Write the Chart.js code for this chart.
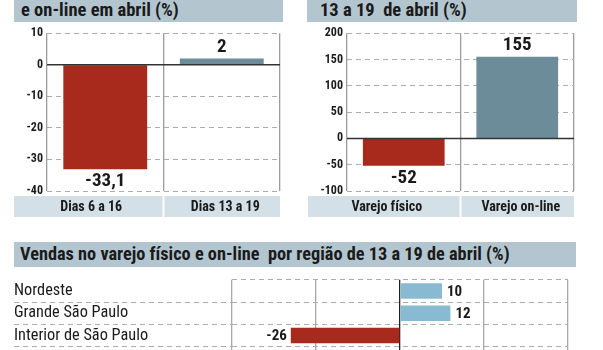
<!DOCTYPE html>
<html>
<head>
<meta charset="utf-8">
<script src="https://cdn.jsdelivr.net/npm/chart.js@4.4.0/dist/chart.umd.min.js"></script>
<style>
  body { margin: 0; width: 603px; height: 350px; overflow: hidden; background: #fff; position: relative;
         font-family: "Roboto Condensed", "DejaVu Sans Condensed", sans-serif; }
  .faixa { position: absolute; background: #b3c6d0; color: #1a1a1a; font-weight: bold; white-space: nowrap; }
  .faixa span { position: absolute; left: 7px; bottom: 1px; }
  canvas { position: absolute; }
</style>
</head>
<body>
<div class="faixa" style="left:14px;top:0;width:269px;height:22px;"><span style="font-size:18.5px">e on-line em abril (%)</span></div>
<div class="faixa" style="left:307px;top:0;width:270px;height:22px;"><span style="font-size:18.5px;left:13px">13 a 19&nbsp; de abril (%)</span></div>
<div class="faixa" style="left:14px;top:242px;width:562px;height:25px;"><span style="font-size:18.3px;left:6px;bottom:3px">Vendas no varejo físico e on-line&nbsp; por região de 13 a 19 de abril (%)</span></div>

<canvas id="c1" width="300" height="200" style="left:0;top:22px"></canvas>
<canvas id="c2" width="303" height="200" style="left:300px;top:22px"></canvas>
<canvas id="c3" width="603" height="110" style="left:0;top:270px"></canvas>

<script>
// dados
const periodos = ['Dias 6 a 16', 'Dias 13 a 19'];
const variacaoPeriodo = [-33.1, 2];
const ticksPeriodo = [-40, -30, -20, -10, 0, 10];

const canais = ['Varejo físico', 'Varejo on-line'];
const variacaoCanal = [-52, 155];
const ticksCanal = [-100, -50, 0, 50, 100, 150, 200];

const regioes = ['Nordeste', 'Grande São Paulo', 'Interior de São Paulo', ''];
const variacaoRegiao = [10, 12, -26, -11];
const ticksRegiao = [-40, -20, 0, 20, 40];

const vermelho = '#a72a1c';
const azulEscuro = '#6b8c98';
const azulClaro = '#88bad2';
const fonte = '"Roboto Condensed", "DejaVu Sans Condensed", sans-serif';

const virgula = v => String(v).replace('.', ',');

// faixas cinza-azuladas com os nomes das categorias
const faixasPlugin = {
    id: 'faixas',
    beforeDraw(chart, args, opts) {
        const c = chart.ctx;
        const x = chart.scales.x;
        const area = chart.chartArea;
        const n = chart.data.labels.length;
        let ini = opts.left;
        c.save();
        for (let i = 0; i < n; i++) {
            let fim = i < n - 1 ? (x.getPixelForTick(i) + x.getPixelForTick(i + 1)) / 2 - 1 : area.right;
            c.fillStyle = '#d4e0e7';
            c.fillRect(ini, opts.top, fim - ini, opts.height);
            c.fillStyle = '#1a1a1a';
            c.font = 'bold 14px ' + fonte;
            c.textAlign = 'center';
            c.textBaseline = 'middle';
            c.fillText(chart.data.labels[i], (ini + fim) / 2 + 3, opts.top + opts.height / 2 + 1);
            ini = fim + 2;
        }
        c.restore();
    }
};

// linha do zero e rótulos de valor
const rotulosPlugin = {
    id: 'rotulos',
    afterDatasetsDraw(chart, args, opts) {
        const c = chart.ctx;
        const meta = chart.getDatasetMeta(0);
        const valores = chart.data.datasets[0].data;
        const area = chart.chartArea;
        c.save();
        if (!opts.horizontal) {
            const y0 = chart.scales.y.getPixelForValue(0);
            c.strokeStyle = '#333';
            c.lineWidth = 1.5;
            c.beginPath();
            c.moveTo(area.left, y0);
            c.lineTo(area.right, y0);
            c.stroke();
        }
        c.fillStyle = '#1a1a1a';
        c.font = 'bold ' + opts.size + 'px ' + fonte;
        meta.data.forEach((bar, i) => {
            const v = valores[i];
            if (opts.horizontal) {
                c.textBaseline = 'middle';
                c.textAlign = v < 0 ? 'right' : 'left';
                c.fillText(virgula(v), bar.x + (v < 0 ? -4 : 5), bar.y + 1);
            } else {
                c.textAlign = 'center';
                c.textBaseline = v < 0 ? 'top' : 'bottom';
                c.fillText(virgula(v), bar.x, bar.y + (v < 0 ? 3 : -2));
            }
        });
        c.restore();
    }
};

function colunas(id, labels, valores, ticks, padRight, faixaLeft) {
    return new Chart(document.getElementById(id), {
        type: 'bar',
        data: {
            labels: labels,
            datasets: [{
                data: valores,
                backgroundColor: valores.map(v => v < 0 ? vermelho : azulEscuro),
                barPercentage: 0.72,
                categoryPercentage: 1
            }]
        },
        options: {
            responsive: false,
            animation: false,
            devicePixelRatio: 1,
            layout: { padding: { top: 11, right: padRight, bottom: 5, left: 0 } },
            plugins: {
                legend: { display: false },
                tooltip: { enabled: false },
                faixas: { left: faixaLeft, top: 174, height: 21 },
                rotulos: { size: 19 }
            },
            scales: {
                x: {
                    grid: { color: '#9c9c9c', lineWidth: 1.3, offset: true, drawTicks: false },
                    border: { display: false },
                    ticks: { display: false },
                    afterFit: s => { s.height = 26; }
                },
                y: {
                    min: ticks[0],
                    max: ticks[ticks.length - 1],
                    ticks: { stepSize: ticks[1] - ticks[0], padding: 4, color: '#1a1a1a', font: { family: fonte, size: 12, weight: 'bold' } },
                    grid: { color: '#acacac', drawTicks: false },
                    border: { display: false, dash: [5, 4] },
                    afterFit: s => { s.width = 47; }
                }
            }
        },
        plugins: [faixasPlugin, rotulosPlugin]
    });
}

colunas('c1', periodos, variacaoPeriodo, ticksPeriodo, 20, 14);
colunas('c2', canais, variacaoCanal, ticksCanal, 29, 8);

new Chart(document.getElementById('c3'), {
    type: 'bar',
    data: {
        labels: regioes,
        datasets: [{
            data: variacaoRegiao,
            backgroundColor: variacaoRegiao.map(v => v < 0 ? vermelho : azulClaro),
            barPercentage: 0.7,
            categoryPercentage: 1
        }]
    },
    options: {
        indexAxis: 'y',
        responsive: false,
        animation: false,
        devicePixelRatio: 1,
        layout: { padding: { top: 7, right: 35, bottom: 11, left: 14 } },
        plugins: {
            legend: { display: false },
            tooltip: { enabled: false },
            rotulos: { size: 15, horizontal: true }
        },
        scales: {
            x: {
                min: ticksRegiao[0],
                max: ticksRegiao[ticksRegiao.length - 1],
                ticks: { display: false, stepSize: ticksRegiao[1] - ticksRegiao[0] },
                grid: { color: ctx => ctx.tick && ctx.tick.value === 0 ? '#222' : '#a8a8a8', lineWidth: 1.3, drawTicks: false },
                border: { display: false },
                afterFit: s => { s.height = 0; }
            },
            y: {
                ticks: { crossAlign: 'far', padding: 0, color: '#1a1a1a', font: { family: fonte, size: 16.3 } },
                grid: {
                    color: '#acacac', offset: true, tickLength: 218,
                    tickBorderDash: [5, 4],
                    tickColor: ctx => ctx.index === 0 ? 'rgba(0,0,0,0)' : '#acacac'
                },
                border: { display: false, dash: [5, 4] },
                afterFit: s => { s.width = 218; }
            }
        }
    },
    plugins: [rotulosPlugin]
});
</script>
</body>
</html>
